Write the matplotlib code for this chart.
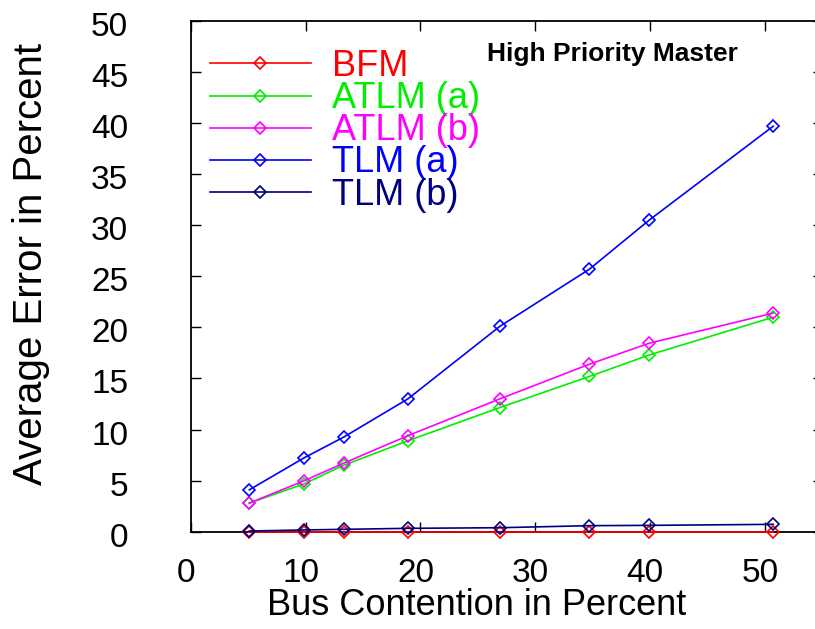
import matplotlib
matplotlib.use("Agg")
import matplotlib.pyplot as plt
import matplotlib.transforms as mtransforms

# ---- data ----
contention = [5.1, 9.9, 13.3, 18.9, 26.9, 34.7, 39.9, 50.7]
bfm = [0.0, 0.0, 0.0, 0.0, 0.0, 0.0, 0.0, 0.0]
atlm_a = [2.8, 4.7, 6.5, 8.9, 12.15, 15.2, 17.3, 21.0]
atlm_b = [2.8, 5.0, 6.7, 9.4, 13.0, 16.4, 18.45, 21.4]
tlm_a = [4.1, 7.25, 9.25, 13.0, 20.1, 25.7, 30.5, 39.7]
tlm_b = [0.07, 0.17, 0.23, 0.33, 0.39, 0.59, 0.62, 0.72]
series_names = ["BFM", "ATLM (a)", "ATLM (b)", "TLM (a)", "TLM (b)"]
series_colors = ["#ff0000", "#00ee00", "#ff00ff", "#0000ff", "#000080"]
xticks = [0, 10, 20, 30, 40, 50]
yticks = [0, 5, 10, 15, 20, 25, 30, 35, 40, 45, 50]
title_text = "High Priority Master"
xlabel = "Bus Contention in Percent"
ylabel = "Average Error in Percent"

plt.rcParams['font.family'] = ['Liberation Sans', 'DejaVu Sans']

W, H = 815, 629
fig = plt.figure(figsize=(W / 100, H / 100), dpi=100)
left_px, right_px, top_px, bot_px = 190.7, 822.6, 21.0, 531.7
ax = fig.add_axes([left_px / W, (H - bot_px) / H, (right_px - left_px) / W, (bot_px - top_px) / H])

all_series = [bfm, atlm_a, atlm_b, tlm_a, tlm_b]
order = [1, 2, 3, 0, 4]
lines = {}
for z, i in enumerate(order):
    ln, = ax.plot(contention, all_series[i], color=series_colors[i], lw=1.2,
                  marker='D', ms=6.5, mfc='none', mec=series_colors[i], mew=1.2,
                  label=series_names[i], clip_on=False, zorder=3 + z)
    lines[i] = ln

ax.set_xlim(0, 55)
ax.set_ylim(0, 50)
ax.set_xticks(xticks)
ax.set_yticks(yticks)
ax.tick_params(direction='in', length=7.2, width=1.0, top=True, right=True,
               labelsize=24)
ax.tick_params(axis='x', pad=19)
ax.tick_params(axis='y', pad=45)
for sp in ax.spines.values():
    sp.set_linewidth(1.3)

# shift tick labels slightly as in the reference
dx = mtransforms.ScaledTranslation(-5 / 100, 0, fig.dpi_scale_trans)
for lab in ax.get_xticklabels():
    lab.set_transform(lab.get_transform() + dx)
dy = mtransforms.ScaledTranslation(0, -3 / 100, fig.dpi_scale_trans)
for lab in ax.get_yticklabels():
    lab.set_transform(lab.get_transform() + dy)

ax.set_xlabel(xlabel, fontsize=26)
ax.set_ylabel(ylabel, fontsize=29)
ax.xaxis.set_label_coords(0.453, -0.110)
ax.yaxis.set_label_coords(-0.2227, 0.524)

ax.text(0.469, 0.935, title_text, transform=ax.transAxes, fontsize=19,
        fontweight='bold', ha='left', va='center')

handles = [lines[i] for i in range(5)]
leg = ax.legend(handles, series_names, loc='upper left', bbox_to_anchor=(0.03, 0.945),
                frameon=False, fontsize=26, handlelength=2.8, handletextpad=0.6,
                labelspacing=-0.08, borderpad=0, borderaxespad=0, numpoints=1)
for txt, c in zip(leg.get_texts(), series_colors):
    txt.set_color(c)

fig.savefig("out.png", dpi=100)
